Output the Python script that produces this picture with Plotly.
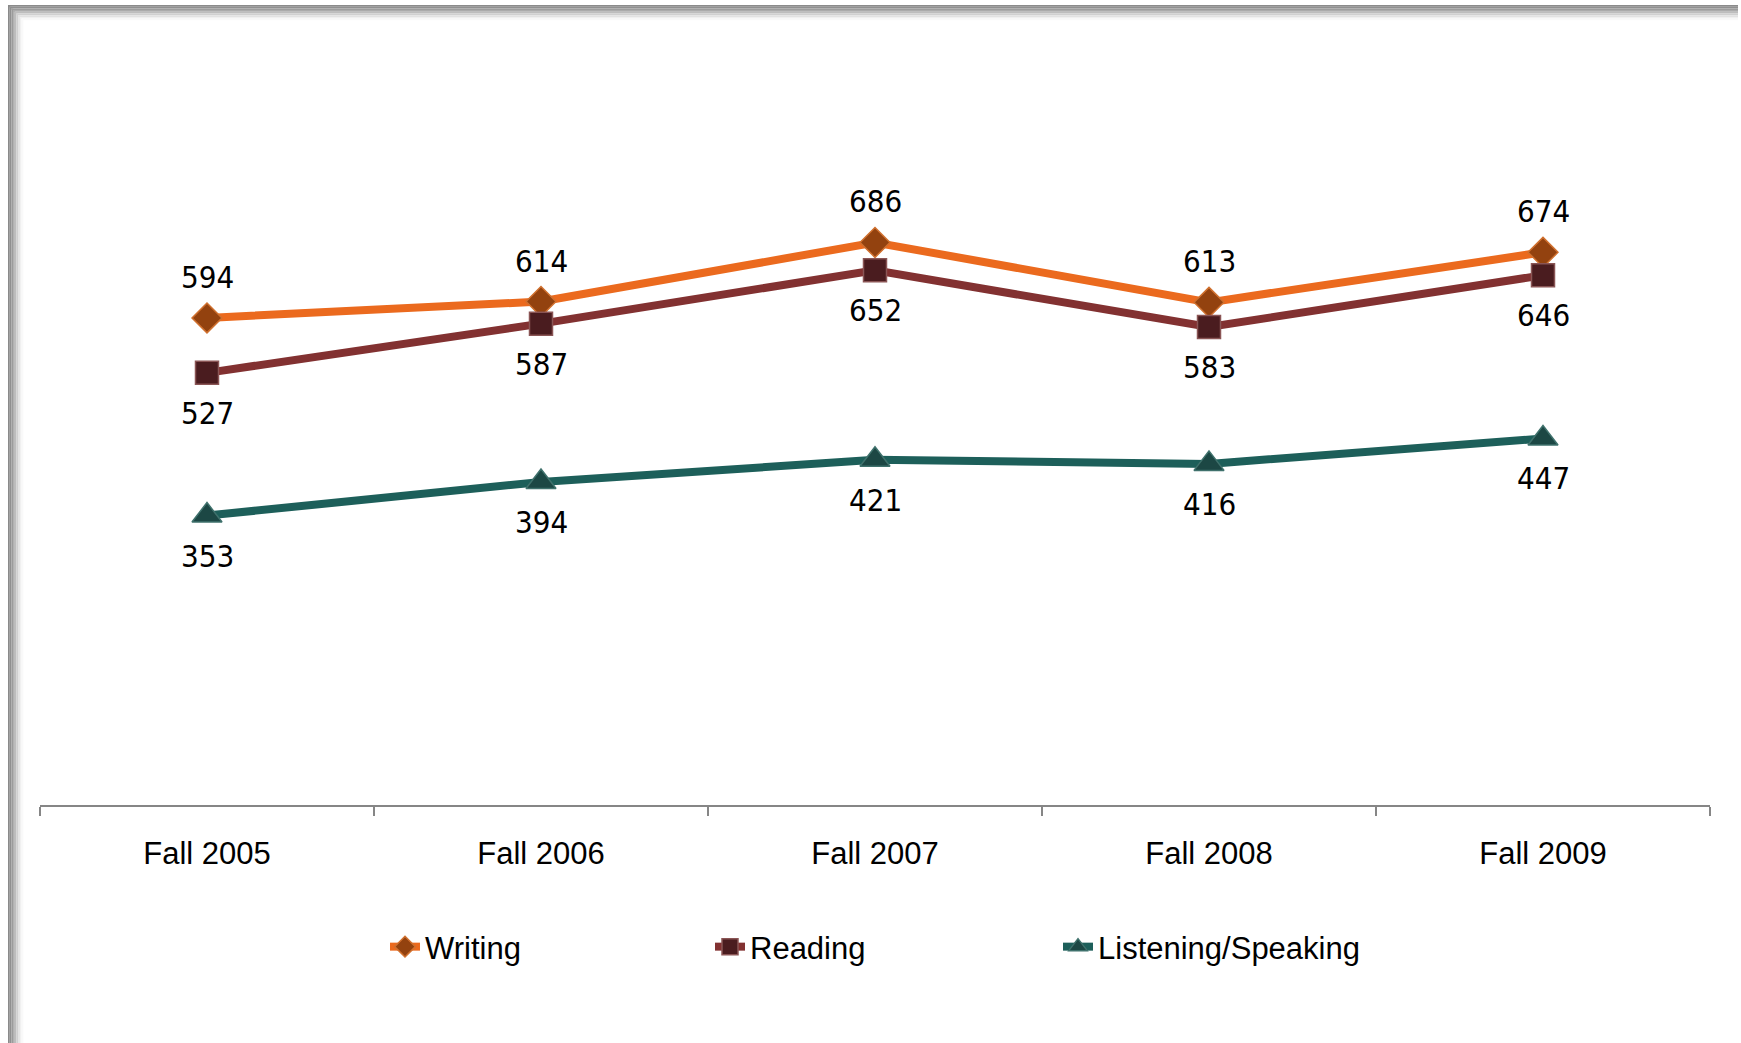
import plotly.graph_objects as go

categories = ["Fall 2005", "Fall 2006", "Fall 2007", "Fall 2008", "Fall 2009"]
writing = [594, 614, 686, 613, 674]
reading = [527, 587, 652, 583, 646]
listening = [353, 394, 421, 416, 447]

W, H = 1741, 1043
ML, MR, MT, MB = 40, 31, 149, 238
PW = W - ML - MR
PH = H - MT - MB

def px(x):
    return (x - ML) / PW

def py(y):
    return (H - MB - y) / PH

fig = go.Figure()

series = [
    ("Writing", writing, "#EB6A1E", "diamond", 23, "#93420F", "#D0702E", 41, "legend"),
    ("Reading", reading, "#823131", "square", 23, "#4A1C1F", "#8A5555", -40, "legend2"),
    ("Listening/Speaking", listening, "#1D5F5A", "triangle-up", 26, "#1C4744", "#3F716C", -40, "legend3"),
]

label_font = dict(family="Noto Sans ExtraCondensed, Noto Sans Condensed, Liberation Sans Narrow, "
                         "Arial Narrow, DejaVu Sans Condensed, sans-serif",
                  size=31, color="#000000")

for name, vals, lc, sym, ms, mfill, mline, shift, lg in series:
    fig.add_trace(go.Scatter(
        x=categories, y=vals, name=name, mode="lines+markers",
        line=dict(color=lc, width=8),
        marker=dict(symbol=sym, size=ms, color=mfill, line=dict(color=mline, width=1.5)),
        legend=lg,
    ))
    for c, v in zip(categories, vals):
        fig.add_annotation(x=c, y=v, text=str(v), showarrow=False, yshift=shift,
                           font=label_font, xanchor="center", yanchor="middle")

# frame shadow (top and left edges)
top_cols = ["#8a8a8a", "#909090", "#9c9c9c", "#ababab", "#bdbdbd", "#d0d0d0", "#e2e2e2", "#f0f0f0", "#f9f9f9"]
for i, col in enumerate(top_cols):
    y0 = 5 + i * 1.7
    fig.add_shape(type="rect", xref="paper", yref="paper",
                  x0=px(8 + i * 1.7), x1=px(1738), y0=py(y0), y1=py(y0 + 1.7),
                  fillcolor=col, line=dict(width=0), layer="below")
    fig.add_shape(type="rect", xref="paper", yref="paper",
                  x0=px(8 + i * 1.7), x1=px(8 + (i + 1) * 1.7), y0=py(H), y1=py(5 + i * 1.7),
                  fillcolor=col, line=dict(width=0), layer="below")

tick_font = dict(family="Liberation Sans, Arial, sans-serif", size=31, color="#000000")
leg_font = dict(family="Liberation Sans, Arial, sans-serif", size=31, color="#000000")

leg_common = dict(orientation="h", yanchor="middle", xanchor="left", y=py(947),
                  font=leg_font, bgcolor="rgba(0,0,0,0)", borderwidth=0)

fig.update_layout(
    width=W, height=H,
    margin=dict(l=ML, r=MR, t=MT, b=MB),
    paper_bgcolor="#ffffff", plot_bgcolor="#ffffff",
    xaxis=dict(
        type="category", range=[-0.5, 4.5], showgrid=False, zeroline=False,
        showline=True, linecolor="#868686", linewidth=2,
        ticks="outside", tickson="boundaries", ticklen=9, tickcolor="#868686", tickwidth=2,
        tickfont=tick_font, ticklabelstandoff=20,
    ),
    yaxis=dict(range=[0, 800], visible=False, showgrid=False, zeroline=False),
    showlegend=True,
    legend=dict(x=px(385), **leg_common),
    legend2=dict(x=px(710), **leg_common),
    legend3=dict(x=px(1058), **leg_common),
)

fig.write_html("out.html", config={"displayModeBar": False},
               post_script="document.body.style.margin='0';")
